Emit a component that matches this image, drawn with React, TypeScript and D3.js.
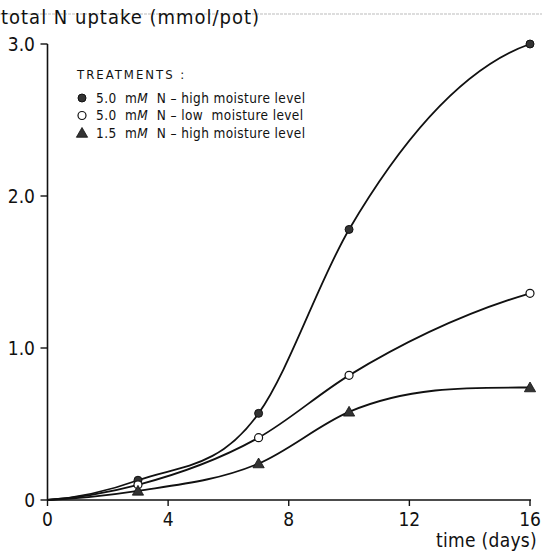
import * as d3 from "d3";

const days = [0, 3, 7, 10, 16];
const highN_highMoisture = [0, 0.13, 0.57, 1.78, 3.0];
const highN_lowMoisture = [0, 0.1, 0.41, 0.82, 1.36];
const lowN_highMoisture = [0, 0.06, 0.24, 0.58, 0.74];

const xTicks = [0, 4, 8, 12, 16];
const yTicks = [0, 1, 2, 3];
const yTickLabels = ["0", "1.0", "2.0", "3.0"];

const legendRows = [
  { conc: "5.0", moisture: "high moisture level", marker: "filled" },
  { conc: "5.0", moisture: "low  moisture level", marker: "open" },
  { conc: "1.5", moisture: "high moisture level", marker: "triangle" },
];

const W = 542;
const H = 555;
const FONT = "'DejaVu Sans Condensed', 'DejaVu Sans', sans-serif";

// slopes from the parabola through each point and its neighbours,
// set to 0 where they would turn the curve back
function slopes(xs: number[], ys: number[]) {
  const n = xs.length;
  const sec = xs.slice(1).map((xv, i) => (ys[i + 1] - ys[i]) / (xv - xs[i]));
  return xs.map((_, i) => {
    const a = Math.max(0, Math.min(i - 1, n - 3));
    const [x0, x1, x2] = [xs[a], xs[a + 1], xs[a + 2]];
    const f01 = sec[a];
    const f12 = sec[a + 1];
    const f012 = (f12 - f01) / (x2 - x0);
    let m = f01 + f012 * (xs[i] - x0 + (xs[i] - x1));
    const near = i === 0 ? sec[0] : sec[i - 1];
    if (m * near < 0) m = 0;
    return m;
  });
}

function smoothPath(xs: number[], ys: number[], sx: d3.ScaleLinear<number, number>, sy: d3.ScaleLinear<number, number>) {
  const m = slopes(xs, ys);
  const p = d3.path();
  p.moveTo(sx(xs[0]), sy(ys[0]));
  for (let i = 0; i < xs.length - 1; i++) {
    const h = xs[i + 1] - xs[i];
    p.bezierCurveTo(
      sx(xs[i] + h / 3), sy(ys[i] + (m[i] * h) / 3),
      sx(xs[i + 1] - h / 3), sy(ys[i + 1] - (m[i + 1] * h) / 3),
      sx(xs[i + 1]), sy(ys[i + 1])
    );
  }
  return p.toString();
}

const Marker = ({ kind, x, y }: { kind: string; x: number; y: number }) => {
  if (kind === "filled")
    return <circle cx={x} cy={y} r={4} fill="#333" stroke="#111" strokeWidth={1} />;
  if (kind === "open")
    return <circle cx={x} cy={y} r={4} fill="#fff" stroke="#111" strokeWidth={1.2} />;
  const p = d3.symbol(d3.symbolTriangle, 55)() ?? "";
  return <path d={p} transform={`translate(${x},${y + 1})`} fill="#333" stroke="#111" strokeWidth={0.8} />;
};

export default function App() {
  const x = d3.scaleLinear().domain([0, 16]).range([47.5, 530]);
  const y = d3.scaleLinear().domain([0, 3]).range([500, 44]);

  const series = [
    { values: highN_highMoisture, marker: "filled" },
    { values: highN_lowMoisture, marker: "open" },
    { values: lowN_highMoisture, marker: "triangle" },
  ];

  return (
    <svg
      width={W}
      height={H}
      style={{ position: "absolute", left: 0, top: 0, background: "#fff" }}
      fontFamily={FONT}
    >
      <line x1={0} x2={W} y1={14} y2={14} stroke="#bbb" strokeWidth={1} strokeDasharray="3,1" />
      <text x={1} y={24} fontSize={20} letterSpacing={1} fill="#111">
        total N uptake (mmol/pot)
      </text>

      {/* axes */}
      <line x1={x(0)} x2={x(0)} y1={y(0)} y2={y(3)} stroke="#111" strokeWidth={1.6} />
      <line x1={x(0)} x2={x(16) + 1} y1={y(0)} y2={y(0)} stroke="#111" strokeWidth={1.6} />
      {yTicks.map((t, i) => (
        <g key={t}>
          <line x1={x(0) - 7} x2={x(0)} y1={y(t)} y2={y(t)} stroke="#111" strokeWidth={1.4} />
          <text x={35} y={y(t) + 7} textAnchor="end" fontSize={19} fill="#111">
            {yTickLabels[i]}
          </text>
        </g>
      ))}
      {xTicks.map((t) => (
        <g key={t}>
          <line x1={x(t)} x2={x(t)} y1={y(0)} y2={y(0) + 6} stroke="#111" strokeWidth={1.4} />
          <text x={x(t)} y={526} textAnchor="middle" fontSize={19} fill="#111">
            {t}
          </text>
        </g>
      ))}
      <text x={537} y={547} textAnchor="end" fontSize={19} letterSpacing={0.3} fill="#111">
        time (days)
      </text>

      {/* legend */}
      <text x={77} y={79} fontSize={13} letterSpacing={2} fill="#111">
        TREATMENTS :
      </text>
      {legendRows.map((r, i) => {
        const cy = 98 + i * 17.5;
        return (
          <g key={i}>
            <Marker kind={r.marker} x={82} y={cy} />
            <text x={96} y={cy + 4.5} fontSize={13.5} letterSpacing={0.4} fill="#111" xmlSpace="preserve">
              {r.conc}{"  m"}
              <tspan fontStyle="italic">M</tspan>
              {"  N – "}
              {r.moisture}
            </text>
          </g>
        );
      })}

      {/* curves */}
      {series.map((s, i) => (
        <path key={i} d={smoothPath(days, s.values, x, y)} fill="none" stroke="#111" strokeWidth={1.8} />
      ))}
      {series.map((s, i) =>
        s.values.map((v, j) =>
          j === 0 ? null : <Marker key={`${i}-${j}`} kind={s.marker} x={x(days[j])} y={y(v)} />
        )
      )}
    </svg>
  );
}
